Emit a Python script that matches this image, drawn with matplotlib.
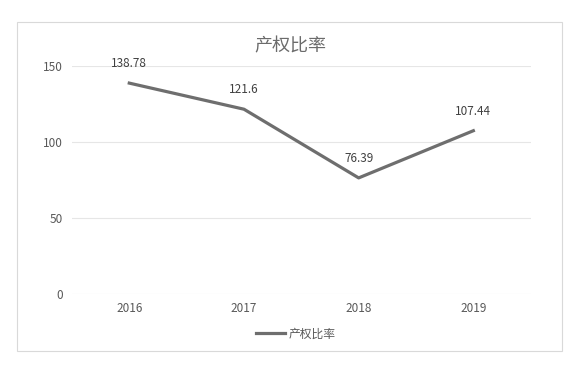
import matplotlib.pyplot as plt
from matplotlib.patches import Rectangle

plt.rcParams['font.family'] = ['Noto Sans CJK SC', 'DejaVu Sans']

years = ['2016', '2017', '2018', '2019']
ratio = [138.78, 121.6, 76.39, 107.44]
labels = ['138.78', '121.6', '76.39', '107.44']
yticks = [0, 50, 100, 150]

txt = '#595959'

fig = plt.figure(figsize=(5.8, 3.67), dpi=100)
fig.patches.append(Rectangle((17/580, 1-351/367), (562-17)/580, (351-22)/367,
                             transform=fig.transFigure, fill=False,
                             edgecolor='#d9d9d9', linewidth=0.8))
ax = fig.add_axes([0.124, 0.199, 0.791, 0.621])

x = range(len(years))
line, = ax.plot(x, ratio, color='#6e6e6e', linewidth=2.3, label='产权比率')
for i, v in enumerate(ratio):
    ax.annotate(labels[i], (i, v), xytext=(0, 14), textcoords='offset points',
                ha='center', va='center', fontsize=8.5, color='#404040')

ax.set_xlim(-0.5, 3.5)
ax.set_ylim(0, 150)
ax.set_xticks(list(x))
ax.set_xticklabels(years)
ax.set_yticks(yticks)
ax.grid(True, axis='y', color='#e6e6e6', linewidth=0.8)
ax.set_axisbelow(True)
for s in ax.spines.values():
    s.set_visible(False)
ax.tick_params(length=0, labelsize=8.5, colors=txt, pad=6)
ax.tick_params(axis='y', pad=6.5)

fig.text(0.5, 1-46/367, '产权比率', ha='center', va='center', fontsize=13,
         color='#6b6b6b', fontweight='light')
fig.legend(handles=[line], loc='center', bbox_to_anchor=(0.51, 1-334/367),
           frameon=False, fontsize=8.5, labelcolor=txt, handlelength=2.5,
           handletextpad=0.3)

fig.savefig('out.png', dpi=100)
